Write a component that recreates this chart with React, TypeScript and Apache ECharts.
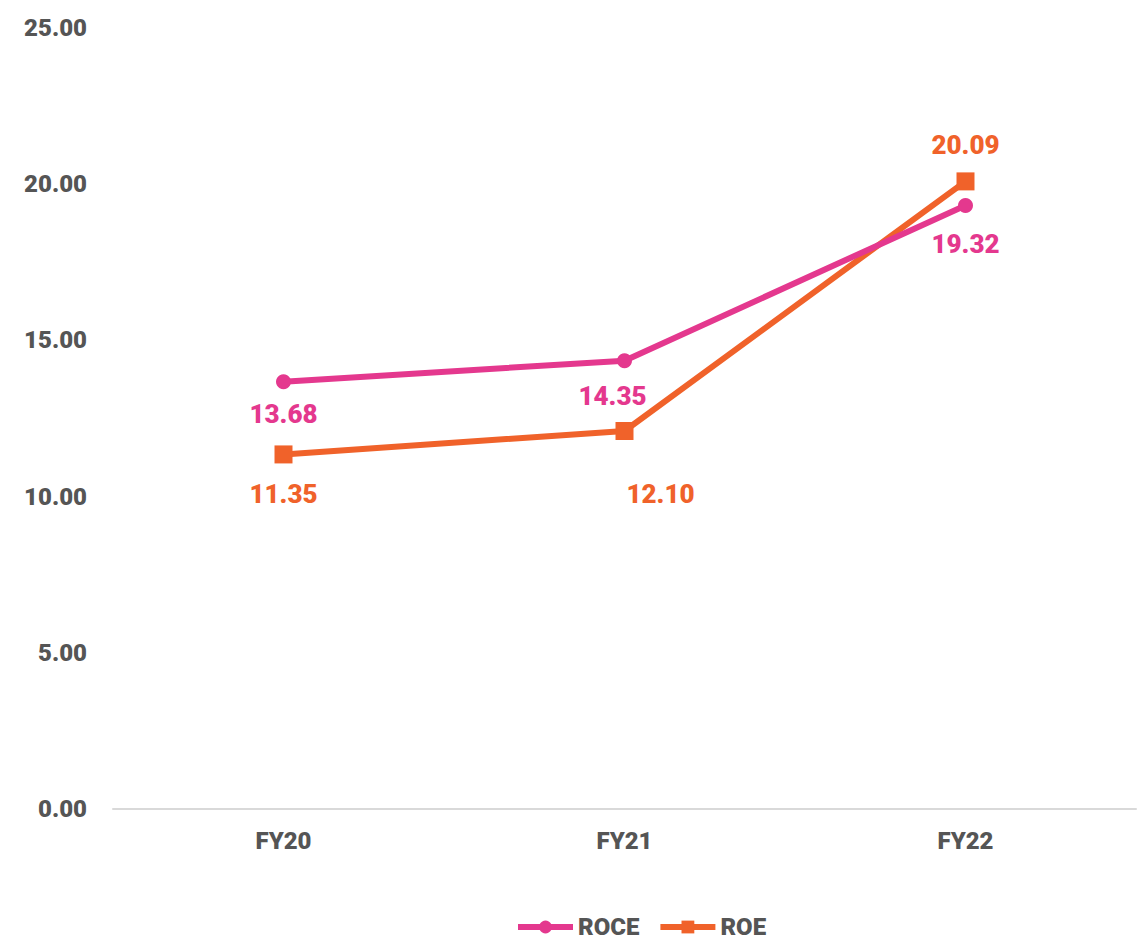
import React, { useEffect, useRef } from "react";
import * as echarts from "echarts";

const categories = ["FY20", "FY21", "FY22"];
const roce = [13.68, 14.35, 19.32];
const roe = [11.35, 12.1, 20.09];
const yTicks = { min: 0, max: 25, interval: 5 };

const PINK = "#E4388E";
const ORANGE = "#F0622A";
const GRAY = "#555555";
const FONT = "Roboto";
const W = 900;

export default function App() {
  const ref = useRef<HTMLDivElement>(null);
  useEffect(() => {
    if (!ref.current) return;
    const chart = echarts.init(ref.current, null, { renderer: "svg" });
    const labelStyle = (color: string) => ({
      show: true,
      color,
      fontFamily: FONT,
      fontWeight: W,
      fontSize: 26,
      formatter: (p: any) => Number(p.value).toFixed(2),
    });
    const roceOffsets = [
      [0, 12],
      [-12, 15],
      [0, 18],
    ];
    const roeOffsets = [
      [0, 18],
      [36, 41],
      [0, -14],
    ];
    chart.setOption({
      animation: false,
      grid: { left: 113, right: 4, top: 28, bottom: 143 },
      legend: {
        left: 510,
        bottom: 8,
        itemWidth: 55,
        itemHeight: 16,
        itemGap: 18,
        itemStyle: {},
        lineStyle: { width: 6 },
        textStyle: { color: GRAY, fontFamily: FONT, fontWeight: W, fontSize: 24, padding: [0, 0, 0, 0] },
        data: ["ROCE", "ROE"],
      },
      xAxis: {
        type: "category",
        data: categories,
        axisLine: { lineStyle: { color: "#d9d9d9", width: 2 } },
        axisTick: { show: false },
        axisLabel: { color: GRAY, fontFamily: FONT, fontWeight: W, fontSize: 24, margin: 20 },
      },
      yAxis: {
        type: "value",
        min: yTicks.min,
        max: yTicks.max,
        interval: yTicks.interval,
        splitLine: { show: false },
        axisLine: { show: false },
        axisTick: { show: false },
        axisLabel: {
          color: GRAY,
          fontFamily: FONT,
          fontWeight: W,
          fontSize: 24,
          margin: 26,
          formatter: (v: number) => v.toFixed(2),
        },
      },
      series: [
        {
          name: "ROCE",
          type: "line",
          data: roce.map((v, i) => ({
            value: v,
            label: { position: "bottom", distance: 0, offset: roceOffsets[i] },
          })),
          symbol: "circle",
          symbolSize: 15,
          lineStyle: { color: PINK, width: 6 },
          itemStyle: { color: PINK },
          label: labelStyle(PINK),
          z: 3,
        },
        {
          name: "ROE",
          type: "line",
          data: roe.map((v, i) => ({
            value: v,
            label: { position: i === 2 ? "top" : "bottom", distance: 0, offset: roeOffsets[i] },
          })),
          symbol: "rect",
          symbolSize: 18,
          lineStyle: { color: ORANGE, width: 6 },
          itemStyle: { color: ORANGE },
          label: labelStyle(ORANGE),
          z: 2,
        },
      ],
    });
    return () => chart.dispose();
  }, []);
  return (
    <div
      ref={ref}
      style={{ position: "fixed", left: 0, top: 0, width: 1140, height: 952, background: "#fff" }}
    />
  );
}
